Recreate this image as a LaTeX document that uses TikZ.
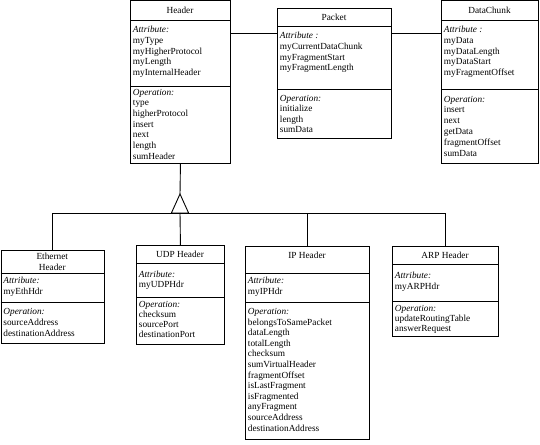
\documentclass[tikz,border=0pt]{standalone}
\usepackage{fontspec}
\setmainfont{Liberation Serif}
\begin{document}
\begin{tikzpicture}[x=1pt,y=-1pt,
  line width=0.9pt,
  box/.style={draw, rectangle, inner sep=0, anchor=north west},
  txt/.style={anchor=base west, inner sep=0, font=\fontsize{9.3}{11}\selectfont},
  ttl/.style={anchor=base, inner sep=0, font=\fontsize{9.3}{11}\selectfont},
  it/.style={txt, font=\fontsize{9.3}{11}\selectfont\itshape}]
\useasboundingbox (0,0) rectangle (540,444);
% ---------- Header ----------
\node[box, minimum width=100pt, minimum height=162.5pt] (header) at (130,0.5) {};
\draw (130,20.5) -- (230,20.5);
\draw (130,86) -- (230,86);
\node[ttl] (hT) at (180,14) {Header};
\node[it]  (hA) at (132.5,32.5) {Attribute:};
\node[txt] (hA1) at (132.5,43.3) {myType};
\node[txt] (hA2) at (132.5,54.1) {myHigherProtocol};
\node[txt] (hA3) at (132.5,64.9) {myLength};
\node[txt] (hA4) at (132.5,75.7) {myInternalHeader};
\node[it]  (hO) at (132.5,95) {Operation:};
\node[txt] (hO1) at (132.5,105.7) {type};
\node[txt] (hO2) at (132.5,116.4) {higherProtocol};
\node[txt] (hO3) at (132.5,127.1) {insert};
\node[txt] (hO4) at (132.5,137.8) {next};
\node[txt] (hO5) at (132.5,148.5) {length};
\node[txt] (hO6) at (132.5,159.2) {sumHeader};
% ---------- Packet ----------
\node[box, minimum width=114pt, minimum height=129.5pt] (packet) at (277,8) {};
\draw (277,26.5) -- (391,26.5);
\draw (277,89) -- (391,89);
\node[ttl] (pT) at (334,20.5) {Packet};
\node[it]  (pA) at (279.5,38.5) {Attribute :};
\node[txt] (pA1) at (279.5,49.3) {myCurrentDataChunk};
\node[txt] (pA2) at (279.5,60.1) {myFragmentStart};
\node[txt] (pA3) at (279.5,70.9) {myFragmentLength};
\node[it]  (pO) at (279.5,101.5) {Operation:};
\node[txt] (pO1) at (279.5,111.8) {initialize};
\node[txt] (pO2) at (279.5,122.1) {length};
\node[txt] (pO3) at (279.5,132.4) {sumData};
% ---------- DataChunk ----------
\node[box, minimum width=97pt, minimum height=162.5pt] (chunk) at (441,0.5) {};
\draw (441,20.7) -- (538,20.7);
\draw (441,89) -- (538,89);
\node[ttl] (cT) at (489.5,14) {DataChunk};
\node[it]  (cA) at (443.5,32.5) {Attribute :};
\node[txt] (cA1) at (443.5,43.3) {myData};
\node[txt] (cA2) at (443.5,54.1) {myDataLength};
\node[txt] (cA3) at (443.5,64.9) {myDataStart};
\node[txt] (cA4) at (443.5,75.7) {myFragmentOffset};
\node[it]  (cO) at (443.5,102) {Operation:};
\node[txt] (cO1) at (443.5,112.8) {insert};
\node[txt] (cO2) at (443.5,123.6) {next};
\node[txt] (cO3) at (443.5,134.4) {getData};
\node[txt] (cO4) at (443.5,145.2) {fragmentOffset};
\node[txt] (cO5) at (443.5,156) {sumData};
% ---------- Ethernet Header ----------
\node[box, minimum width=103.5pt, minimum height=93pt] (eth) at (0.5,250) {};
\draw (0.5,273) -- (104,273);
\draw (0.5,302.5) -- (104,302.5);
\node[ttl] (eT1) at (52.25,259.5) {Ethernet};
\node[ttl] (eT2) at (52.25,270) {Header};
\node[it]  (eA) at (3,283.5) {Attribute:};
\node[txt] (eA1) at (3,294) {myEthHdr};
\node[it]  (eO) at (3,314.5) {Operation:};
\node[txt] (eO1) at (3,325.3) {sourceAddress};
\node[txt] (eO2) at (3,336) {destinationAddress};
% ---------- UDP Header ----------
\node[box, minimum width=88pt, minimum height=99pt] (udp) at (136,245) {};
\draw (136,263) -- (224,263);
\draw (136,297) -- (224,297);
\node[ttl] (uT) at (180,257.5) {UDP Header};
\node[it]  (uA) at (138.5,277) {Attribute:};
\node[txt] (uA1) at (138.5,287.8) {myUDPHdr};
\node[it]  (uO) at (138.5,307) {Operation:};
\node[txt] (uO1) at (138.5,317.2) {checksum};
\node[txt] (uO2) at (138.5,327.4) {sourcePort};
\node[txt] (uO3) at (138.5,337.6) {destinationPort};
% ---------- IP Header ----------
\node[box, minimum width=124pt, minimum height=193pt] (ip) at (245,246) {};
\draw (245,273) -- (369,273);
\draw (245,302) -- (369,302);
\node[ttl] (iT) at (307,258.5) {IP Header};
\node[it]  (iA) at (247.5,283.5) {Attribute:};
\node[txt] (iA1) at (247.5,294.3) {myIPHdr};
\node[it]  (iO) at (247.5,314.5) {Operation:};
\node[txt] (iO1) at (247.5,325.1) {belongsToSamePacket};
\node[txt] (iO2) at (247.5,335.7) {dataLength};
\node[txt] (iO3) at (247.5,346.3) {totalLength};
\node[txt] (iO4) at (247.5,356.9) {checksum};
\node[txt] (iO5) at (247.5,367.5) {sumVirtualHeader};
\node[txt] (iO6) at (247.5,378.1) {fragmentOffset};
\node[txt] (iO7) at (247.5,388.7) {isLastFragment};
\node[txt] (iO8) at (247.5,399.3) {isFragmented};
\node[txt] (iO9) at (247.5,409.9) {anyFragment};
\node[txt] (iO10) at (247.5,420.5) {sourceAddress};
\node[txt] (iO11) at (247.5,431.1) {destinationAddress};
% ---------- ARP Header ----------
\node[box, minimum width=106pt, minimum height=90pt] (arp) at (392,246) {};
\draw (392,264.5) -- (498,264.5);
\draw (392,301) -- (498,301);
\node[ttl] (aT) at (445,258.5) {ARP Header};
\node[it]  (aA) at (394.5,278.5) {Attribute:};
\node[txt] (aA1) at (394.5,289) {myARPHdr};
\node[it]  (aO) at (394.5,311.5) {Operation:};
\node[txt] (aO1) at (394.5,321.5) {updateRoutingTable};
\node[txt] (aO2) at (394.5,331.5) {answerRequest};
% ---------- associations ----------
\coordinate (assoc) at (0,33);
\draw (header.east |- assoc) -- (packet.west |- assoc);
\draw (packet.east |- assoc) -- (chunk.west |- assoc);
% ---------- generalization ----------
\coordinate (apex) at (180,194);
\coordinate (busmid) at (180,213);
\draw (header.south) -- (apex);
\draw (apex) -- ++(-8.6,19) -- ++(17.2,0) -- cycle;
\draw (eth.north) -- (eth.north |- busmid) -- (arp.north |- busmid) -- (arp.north);
\draw (udp.north) -- (busmid);
\draw (ip.north) -- (ip.north |- busmid);
\end{tikzpicture}
\end{document}
